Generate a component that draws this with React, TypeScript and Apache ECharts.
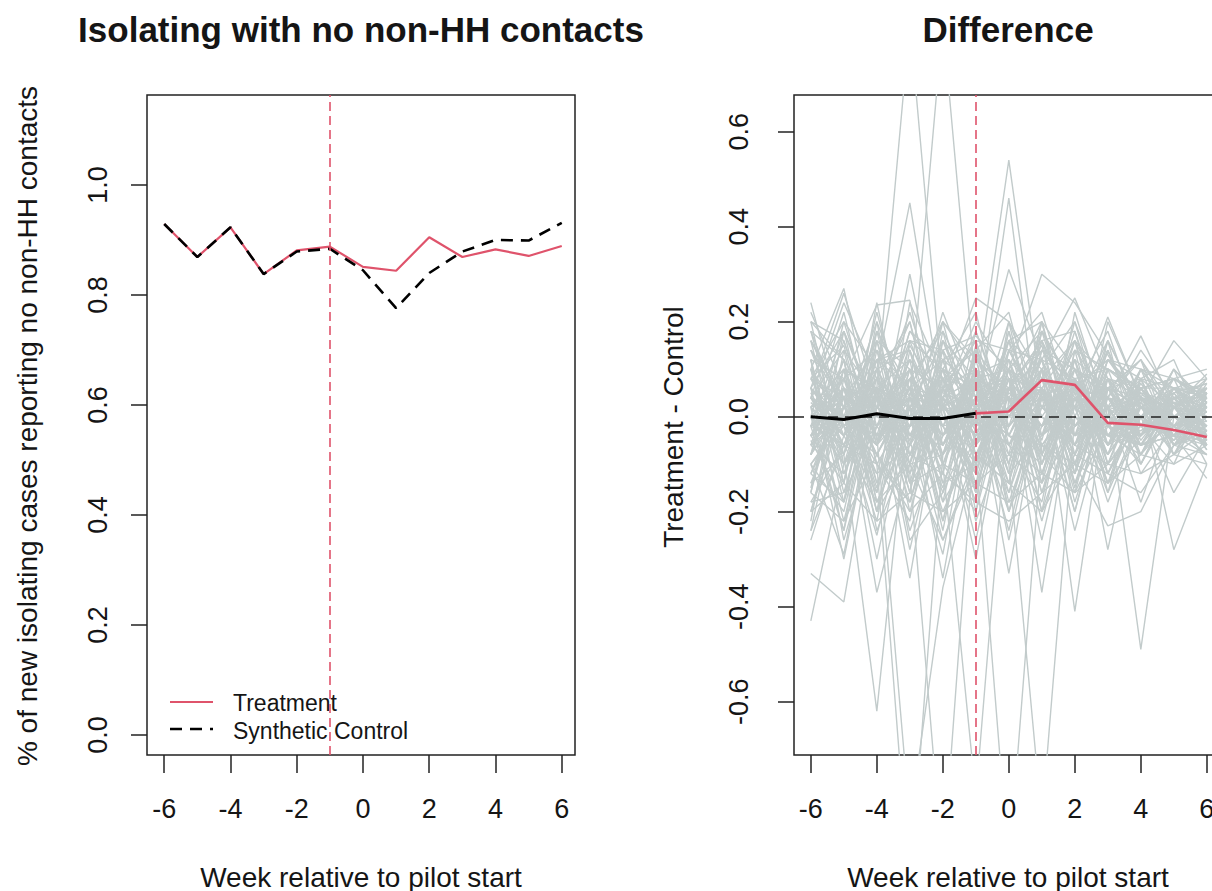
import React, { useEffect, useRef } from "react";
import * as echarts from "echarts";

// ---------- data ----------
const weeks = [-6, -5, -4, -3, -2, -1, 0, 1, 2, 3, 4, 5, 6];
const treatment = [0.929, 0.869, 0.923, 0.838, 0.881, 0.888, 0.851, 0.844, 0.905, 0.869, 0.883, 0.871, 0.889];
const syntheticControl = [0.929, 0.869, 0.923, 0.838, 0.879, 0.884, 0.845, 0.776, 0.84, 0.879, 0.9, 0.899, 0.931];

const preWeeks = [-6, -5, -4, -3, -2, -1];
const diffPre = [0.0, -0.006, 0.006, -0.004, -0.004, 0.007];
const postWeeks = [-1, 0, 1, 2, 3, 4, 5, 6];
const diffPost = [0.007, 0.011, 0.077, 0.067, -0.013, -0.017, -0.028, -0.043];

const xTicks = [-6, -4, -2, 0, 2, 4, 6];
const yTicksLeft = [0, 0.2, 0.4, 0.6, 0.8, 1.0];
const yTicksRight = [-0.6, -0.4, -0.2, 0, 0.2, 0.4, 0.6];
const pilotWeek = -1;

// placebo (gray) differences, one row per unit, weeks -6..6
const placebo: number[][] = [
  [0.05, -0.08, 0.1, -0.05, 0.12, -0.1, 0.06, 0.15, -0.12, 0.08, -0.05, 0.04, -0.02],
  [-0.12, 0.06, -0.15, 0.1, -0.08, 0.13, -0.04, -0.1, 0.12, -0.06, 0.07, -0.03, 0.05],
  [0.14, 0.02, -0.06, 0.15, 0.03, -0.12, 0.1, 0.05, -0.08, 0.14, -0.02, 0.06, -0.05],
  [-0.05, -0.18, 0.04, -0.1, 0.16, 0.02, -0.14, 0.18, 0.05, -0.12, 0.03, -0.06, 0.02],
  [0.08, 0.15, -0.1, 0.02, -0.15, 0.09, 0.12, -0.05, 0.2, 0.02, -0.08, 0.05, 0.07],
  [-0.15, 0.1, 0.05, -0.18, 0.08, -0.03, 0.02, 0.12, -0.15, 0.1, 0.06, -0.04, -0.08],
  [0.02, -0.04, 0.18, 0.06, -0.12, 0.15, -0.08, -0.14, 0.08, -0.02, 0.1, 0.08, 0.03],
  [0.2, -0.1, -0.02, 0.12, 0.04, -0.16, 0.14, 0.02, -0.04, 0.16, -0.1, 0.02, 0.09],
  [-0.08, 0.12, -0.18, -0.02, 0.1, 0.06, -0.1, 0.2, 0.1, -0.08, 0.02, -0.08, -0.03],
  [0.1, -0.02, 0.08, -0.14, -0.04, 0.12, 0.04, -0.06, -0.12, 0.06, 0.12, 0.0, 0.06],
  [-0.02, 0.18, 0.02, 0.08, -0.18, -0.06, 0.16, 0.1, 0.02, -0.14, -0.04, 0.1, -0.06],
  [0.16, 0.04, -0.12, -0.06, 0.14, 0.0, -0.06, -0.18, 0.14, 0.04, 0.0, -0.05, 0.04],
  [-0.18, -0.06, 0.12, 0.14, -0.02, -0.12, 0.08, 0.06, -0.1, 0.12, 0.05, 0.03, -0.1],
  [0.06, 0.26, 0.04, -0.08, 0.06, 0.1, -0.12, 0.14, 0.04, -0.04, -0.06, 0.06, 0.01],
  [-0.1, 0.0, -0.06, 0.18, 0.12, -0.08, 0.0, -0.02, 0.16, 0.08, -0.12, -0.02, 0.08],
  [0.12, -0.14, 0.16, -0.12, 0.02, 0.18, -0.02, 0.08, -0.06, -0.1, 0.08, 0.12, -0.04],
  [0.0, 0.08, -0.08, 0.04, -0.1, -0.14, 0.12, -0.1, 0.06, 0.18, -0.02, -0.1, 0.05],
  [-0.06, -0.12, 0.06, -0.16, 0.18, 0.04, 0.06, 0.16, -0.02, 0.02, 0.14, 0.04, -0.07],
  [0.18, 0.12, 0.0, 0.1, -0.06, 0.08, -0.16, 0.04, 0.12, -0.16, 0.0, 0.08, 0.1],
  [-0.14, 0.04, 0.14, -0.04, 0.0, -0.1, 0.18, -0.08, -0.16, 0.1, 0.06, -0.06, 0.0],
  [-0.43, -0.1, 0.05, -0.08, 0.1, -0.05, 0.08, -0.1, 0.05, 0.02, -0.04, 0.03, -0.02],
  [-0.33, -0.39, 0.02, 0.1, -0.06, 0.04, -0.02, 0.06, -0.08, 0.04, 0.02, -0.04, -0.06],
  [0.1, 0.27, -0.05, 0.06, -0.02, 0.08, 0.04, -0.04, 0.1, -0.06, 0.04, 0.02, 0.05],
  [0.2, 0.16, -0.06, 0.02, 0.08, -0.1, 0.1, 0.02, -0.06, 0.06, -0.02, 0.0, 0.03],
  [0.02, -0.08, -0.62, 0.05, -0.04, 0.06, -0.06, 0.1, -0.02, 0.04, -0.06, 0.05, -0.03],
  [-0.06, 0.04, -0.37, -0.1, 0.08, -0.02, 0.04, -0.08, 0.06, -0.04, 0.02, -0.02, 0.02],
  [0.04, 0.0, 0.06, 0.83, 0.05, 0.02, -0.04, 0.08, 0.02, -0.06, 0.04, -0.03, 0.01],
  [-0.02, 0.06, -0.04, 0.04, 0.83, 0.06, 0.08, -0.02, 0.04, 0.06, -0.02, 0.04, -0.02],
  [0.06, -0.04, 0.1, 0.45, 0.02, -0.06, 0.05, 0.0, -0.06, 0.08, 0.0, -0.04, 0.04],
  [-0.04, 0.08, 0.235, 0.245, -0.1, 0.04, 0.0, 0.04, 0.08, -0.02, -0.04, 0.06, -0.01],
  [0.08, 0.02, -0.06, 0.3, -0.04, 0.1, -0.02, 0.06, -0.1, 0.02, 0.06, 0.0, 0.02],
  [0.04, -0.06, -0.1, -1.0, -0.08, 0.02, 0.06, -0.04, 0.02, 0.0, -0.03, 0.02, -0.04],
  [-0.08, 0.02, 0.04, -0.12, -0.95, 0.0, -0.06, 0.04, -0.04, 0.02, 0.04, -0.05, 0.02],
  [0.02, 0.1, -0.04, -0.85, -0.36, -0.08, 0.04, 0.02, 0.06, -0.04, 0.0, 0.02, 0.0],
  [-0.1, -0.29, 0.06, -0.05, -0.29, 0.08, -0.04, -0.06, 0.02, 0.04, -0.02, 0.03, -0.05],
  [0.06, -0.02, -0.25, 0.04, -0.02, -0.14, 0.02, 0.1, -0.04, 0.06, 0.02, -0.02, 0.04],
  [-0.04, 0.02, -0.06, 0.06, -0.1, -0.8, 0.04, -0.02, 0.08, -0.02, 0.04, 0.0, -0.03],
  [0.03, -0.04, 0.02, -0.02, 0.06, -0.08, -0.95, -0.06, 0.02, 0.06, -0.04, 0.03, 0.01],
  [-0.02, 0.06, 0.0, 0.04, -0.06, 0.1, -0.1, -0.85, 0.0, -0.04, 0.05, -0.02, 0.03],
  [0.0, -0.06, 0.04, 0.02, -0.04, 0.06, 0.54, 0.04, -0.06, 0.02, 0.0, 0.04, -0.02],
  [0.05, 0.04, -0.08, 0.06, 0.02, -0.02, 0.46, -0.08, 0.08, -0.04, 0.06, -0.04, 0.0],
  [-0.06, 0.0, 0.08, -0.04, 0.1, 0.04, 0.31, 0.12, -0.02, 0.08, -0.06, 0.02, 0.04],
  [0.02, 0.08, -0.02, 0.1, 0.06, 0.25, 0.2, 0.02, 0.06, -0.08, 0.02, 0.05, -0.04],
  [-0.04, 0.06, 0.02, -0.06, 0.04, 0.08, 0.1, 0.3, 0.24, 0.13, 0.02, -0.02, 0.02],
  [0.04, -0.04, 0.06, 0.02, -0.08, 0.06, -0.33, 0.06, -0.02, 0.04, -0.04, 0.02, 0.0],
  [-0.02, 0.04, -0.06, 0.08, 0.02, -0.04, 0.08, -0.37, 0.08, -0.06, 0.02, -0.03, 0.03],
  [0.06, -0.02, 0.04, -0.06, 0.1, 0.02, -0.04, 0.1, -0.41, 0.06, -0.04, 0.04, -0.02],
  [-0.06, 0.02, 0.1, -0.02, 0.04, -0.06, 0.06, -0.02, 0.08, -0.28, 0.04, -0.02, 0.01],
  [0.04, -0.1, 0.02, 0.06, -0.06, 0.1, -0.02, 0.06, -0.1, -0.23, -0.2, -0.06, -0.04],
  [0.0, 0.06, -0.04, 0.02, 0.08, -0.02, 0.04, -0.08, 0.04, 0.02, -0.49, 0.0, -0.06],
  [-0.04, -0.02, 0.06, -0.08, 0.02, 0.06, -0.06, 0.04, 0.02, -0.04, 0.04, -0.28, -0.1],
  [0.02, 0.04, -0.02, 0.08, -0.04, 0.02, 0.1, -0.04, 0.02, 0.21, 0.04, 0.02, 0.05],
  [-0.02, -0.06, 0.08, 0.0, 0.06, -0.04, -0.02, 0.08, 0.06, 0.04, 0.17, 0.02, 0.06],
  [0.06, 0.0, -0.04, -0.02, 0.02, 0.08, 0.04, -0.02, 0.1, 0.06, 0.04, 0.16, 0.08],
  [-0.08, 0.1, 0.06, 0.04, -0.02, 0.0, 0.06, 0.12, 0.25, 0.08, 0.06, 0.08, 0.04],
  [0.04, -0.02, -0.08, 0.06, 0.04, -0.06, 0.02, 0.06, -0.04, -0.02, -0.06, -0.04, -0.13],
  [-0.02, 0.04, 0.02, -0.04, -0.06, 0.04, 0.08, -0.02, 0.04, 0.06, 0.02, 0.06, 0.08],
  [0.16, 0.02, 0.12, 0.16, 0.14, 0.17, 0.1, 0.18, 0.06, 0.12, 0.08, 0.06, 0.05],
  [-0.2, -0.14, -0.22, -0.16, -0.2, -0.14, -0.18, -0.12, -0.16, -0.1, -0.12, -0.08, -0.1],
  [0.12, 0.08, 0.14, 0.06, 0.12, 0.16, 0.14, 0.12, 0.08, 0.1, 0.06, 0.08, 0.04],
  [-0.16, -0.22, -0.08, -0.2, -0.12, -0.18, -0.22, -0.16, -0.1, -0.14, -0.08, -0.1, -0.06],
  [-0.24, -0.06, -0.18, -0.1, -0.26, -0.08, -0.14, -0.2, -0.08, -0.12, -0.16, -0.06, -0.08],
  [0.02, -0.3, 0.04, -0.34, 0.06, -0.04, 0.02, -0.06, 0.04, -0.02, 0.02, 0.0, -0.02],
  [-0.08, 0.04, -0.3, 0.02, -0.34, 0.04, -0.08, 0.02, -0.02, 0.04, -0.02, 0.03, 0.0],
  [0.0, -0.24, 0.06, -0.28, 0.02, -0.3, 0.06, -0.04, 0.06, 0.0, -0.04, 0.02, -0.02],
  [-0.02, 0.06, -0.2, 0.04, -0.22, 0.08, -0.26, 0.04, -0.2, 0.06, -0.06, -0.02, -0.08],
  [0.04, 0.0, 0.04, -0.02, 0.02, 0.0, -0.2, 0.06, -0.24, 0.02, -0.18, 0.02, -0.06],
  [-0.04, 0.02, -0.02, 0.04, -0.04, 0.04, 0.04, -0.26, 0.04, -0.18, 0.0, -0.16, -0.04],
  [0.0, -0.02, 0.06, 0.0, 0.04, -0.02, 0.16, 0.2, -0.04, 0.1, -0.08, 0.04, 0.02],
  [0.08, 0.04, 0.0, -0.04, 0.08, 0.14, -0.1, 0.16, 0.18, -0.06, 0.1, 0.0, -0.02],
  [0.12, -0.16, 0.08, 0.2, -0.06, 0.04, 0.12, -0.12, 0.1, 0.04, -0.08, 0.06, 0.0],
  [-0.2, 0.02, 0.16, -0.06, 0.1, -0.16, 0.02, 0.08, 0.16, -0.1, 0.06, -0.02, -0.06],
  [0.04, 0.14, -0.14, 0.0, 0.2, 0.1, -0.2, 0.04, -0.06, 0.12, 0.1, 0.02, 0.06],
  [-0.1, -0.2, 0.1, 0.14, -0.14, 0.02, 0.1, -0.2, 0.0, 0.14, -0.04, 0.06, -0.02],
  [0.22, 0.06, -0.08, -0.18, 0.06, 0.16, -0.04, 0.12, -0.14, 0.0, 0.08, -0.06, 0.04],
  [-0.04, -0.14, 0.2, 0.02, -0.2, -0.04, 0.14, 0.0, 0.1, -0.1, -0.02, 0.1, 0.02],
  [0.08, 0.2, -0.02, -0.12, 0.14, -0.2, 0.06, 0.2, -0.08, 0.08, 0.04, -0.08, 0.05],
  [-0.16, 0.1, -0.2, 0.16, -0.02, 0.12, -0.12, -0.04, 0.18, -0.02, -0.1, 0.04, -0.02],
  [0.0, -0.1, 0.12, -0.2, 0.04, 0.2, 0.08, -0.16, 0.02, 0.16, 0.02, -0.04, 0.07],
  [0.14, -0.04, -0.16, 0.08, 0.18, -0.08, -0.14, 0.1, -0.18, 0.04, 0.12, 0.02, -0.05],
  [-0.22, 0.14, 0.04, -0.1, -0.08, 0.14, 0.04, 0.14, 0.06, -0.14, 0.02, 0.08, 0.03],
  [0.06, -0.22, 0.06, 0.12, 0.02, -0.18, 0.2, -0.1, 0.12, 0.06, -0.06, -0.04, 0.06],
  [-0.12, 0.02, -0.1, -0.22, 0.16, 0.08, -0.06, 0.06, -0.12, 0.2, 0.04, 0.0, -0.04],
  [0.18, -0.08, 0.18, 0.04, -0.16, 0.0, 0.16, -0.12, 0.04, -0.08, 0.1, 0.06, 0.02],
  [-0.06, 0.16, -0.04, 0.18, 0.08, -0.22, -0.02, 0.18, -0.04, 0.02, -0.08, 0.02, 0.08],
  [0.1, 0.0, 0.2, -0.14, -0.1, 0.1, -0.18, 0.02, 0.14, -0.12, 0.04, -0.06, -0.02],
  [-0.18, -0.16, -0.02, 0.06, 0.2, -0.06, 0.1, -0.14, -0.02, 0.08, 0.0, 0.04, 0.04],
  [0.02, 0.1, -0.2, -0.08, -0.12, 0.18, 0.0, 0.1, 0.2, -0.04, -0.04, 0.08, -0.06],
  [0.16, -0.12, 0.02, 0.22, 0.0, -0.12, 0.18, -0.06, -0.1, 0.1, 0.06, -0.02, 0.01],
  [-0.08, 0.2, 0.1, -0.16, 0.12, 0.06, -0.1, 0.16, 0.02, -0.16, 0.08, 0.02, 0.05],
  [0.24, -0.02, -0.12, 0.1, -0.18, 0.12, 0.06, -0.08, 0.16, 0.02, -0.1, 0.04, -0.03],
  [-0.14, -0.08, 0.22, -0.04, 0.06, -0.14, -0.08, 0.2, -0.1, 0.06, 0.08, -0.08, 0.0],
  [0.0, 0.22, -0.06, 0.12, -0.22, 0.02, 0.12, 0.04, 0.08, -0.06, -0.02, 0.1, 0.03],
  [0.1, -0.18, 0.14, -0.14, 0.1, 0.22, -0.06, -0.12, 0.06, 0.12, 0.02, -0.02, -0.08],
  [-0.24, 0.08, -0.14, 0.02, 0.16, -0.02, 0.2, 0.08, -0.16, -0.02, 0.06, 0.06, 0.06],
  [0.14, 0.04, 0.06, -0.24, -0.04, 0.08, -0.14, 0.14, 0.1, 0.04, -0.06, -0.04, 0.02],
  [-0.02, -0.24, 0.16, 0.1, -0.14, -0.1, 0.08, -0.2, 0.14, 0.1, 0.04, 0.02, -0.04],
  [0.2, 0.12, -0.18, -0.02, 0.22, 0.04, -0.02, 0.06, -0.2, 0.08, -0.04, 0.06, 0.04],
  [-0.1, -0.02, 0.04, 0.2, -0.1, -0.2, 0.14, 0.22, 0.0, -0.08, 0.1, -0.06, 0.0],
  [0.06, 0.18, -0.1, -0.18, 0.04, 0.16, -0.2, -0.02, 0.12, -0.1, 0.0, 0.04, 0.07],
  [-0.26, -0.04, 0.12, 0.06, -0.24, 0.1, 0.0, 0.12, -0.06, 0.14, -0.02, -0.04, -0.02],
  [0.12, -0.26, -0.02, 0.16, 0.1, -0.16, 0.1, -0.16, 0.08, -0.14, 0.06, 0.08, 0.05],
  [-0.04, 0.12, -0.24, -0.06, 0.14, 0.0, -0.16, 0.1, -0.14, 0.06, 0.12, -0.06, -0.03],
  [0.08, -0.06, 0.1, -0.26, -0.16, 0.14, 0.22, -0.04, 0.04, -0.04, -0.08, 0.0, 0.02],
  [-0.16, 0.18, 0.0, 0.04, 0.02, -0.26, 0.06, 0.16, -0.12, 0.16, 0.02, 0.02, -0.07],
  [0.18, 0.0, -0.22, 0.14, -0.08, 0.02, -0.24, 0.06, 0.16, -0.06, 0.08, -0.08, 0.03],
  [-0.12, -0.18, 0.18, -0.1, 0.2, 0.12, 0.04, -0.22, 0.04, 0.0, -0.06, 0.04, 0.06],
  [0.04, 0.24, 0.08, 0.0, -0.26, -0.1, 0.16, 0.0, -0.08, 0.12, 0.04, -0.02, -0.01],
  [-0.2, 0.06, -0.16, 0.24, 0.08, 0.06, -0.12, 0.18, 0.06, -0.12, 0.0, 0.06, 0.04],
  [0.1, -0.14, 0.24, -0.08, 0.0, -0.08, 0.08, -0.14, 0.22, 0.0, 0.06, -0.04, -0.05],
];

// ---------- styles ----------
const RED = "#DF536B";
const GRAY = "#C2CBCB";
const INK = "#151515";
const FONT = "'Liberation Sans', Arial, Helvetica, sans-serif";

const pairs = (xs: number[], ys: number[]) => xs.map((x, i) => [x, ys[i]]);

export default function App() {
  const ref = useRef<HTMLDivElement>(null);

  useEffect(() => {
    if (!ref.current) return;
    const chart = echarts.init(ref.current, undefined, { renderer: "svg" });

    const tickStyle = { color: "#222", width: 1.5 };
    const labelBase = { color: INK, fontSize: 27, fontFamily: FONT };

    const xAxisCommon = (gridIndex: number, min: number, max: number) => ({
      type: "value",
      gridIndex,
      min,
      max,
      position: "bottom",
      splitLine: { show: false },
      axisLine: { show: false, onZero: false },
      axisTick: { show: true, length: 18, lineStyle: tickStyle, customValues: xTicks },
      axisLabel: { ...labelBase, margin: 40, customValues: xTicks, formatter: (v: number) => String(v) },
    });

    const yAxisCommon = (gridIndex: number, min: number, max: number, ticks: number[], margin: number) => ({
      type: "value",
      gridIndex,
      min,
      max,
      position: "left",
      splitLine: { show: false },
      axisLine: { show: false, onZero: false },
      axisTick: { show: true, length: 16, lineStyle: tickStyle, customValues: ticks },
      axisLabel: {
        ...labelBase,
        rotate: 90,
        margin,
        customValues: ticks,
        formatter: (v: number) => v.toFixed(1),
      },
    });

    const graySeries = placebo.map((row, i) => ({
      name: "placebo" + i,
      type: "line",
      xAxisIndex: 1,
      yAxisIndex: 1,
      data: pairs(weeks, row),
      showSymbol: false,
      symbol: "none",
      silent: true,
      lineStyle: { color: GRAY, width: 1.4 },
      z: 1,
    }));

    const vLine = (axis: number) => ({
      type: "line",
      xAxisIndex: axis,
      yAxisIndex: axis,
      data: [],
      z: 10,
      markLine: {
        silent: true,
        symbol: "none",
        label: { show: false },
        lineStyle: { color: RED, type: [9, 5], width: 1.6 },
        data: [{ xAxis: pilotWeek }],
      },
    });

    const option = {
      animation: false,
      backgroundColor: "#fff",
      grid: [
        { left: 147, top: 95, width: 428, height: 660, show: true, borderColor: "#222", borderWidth: 1.5, backgroundColor: "transparent" },
        { left: 794, top: 95, width: 428, height: 660, show: true, borderColor: "#222", borderWidth: 1.5, backgroundColor: "transparent" },
      ],
      xAxis: [xAxisCommon(0, -6.52, 6.4), xAxisCommon(1, -6.51, 6.46)],
      yAxis: [
        yAxisCommon(0, -0.0364, 1.1636, yTicksLeft, 36),
        yAxisCommon(1, -0.7123, 0.6772, yTicksRight, 42),
      ],
      series: [
        {
          name: "Treatment",
          type: "line",
          xAxisIndex: 0,
          yAxisIndex: 0,
          data: pairs(weeks, treatment),
          showSymbol: false,
          symbol: "none",
          lineStyle: { color: RED, width: 2.2 },
          z: 3,
        },
        {
          name: "Synthetic Control",
          type: "line",
          xAxisIndex: 0,
          yAxisIndex: 0,
          data: pairs(weeks, syntheticControl),
          showSymbol: false,
          symbol: "none",
          lineStyle: { color: "#000", width: 2.6, type: [12, 8] },
          z: 4,
        },
        ...graySeries,
        {
          type: "line",
          xAxisIndex: 1,
          yAxisIndex: 1,
          data: [],
          z: 2,
          markLine: {
            silent: true,
            symbol: "none",
            label: { show: false },
            lineStyle: { color: "#222", type: [10, 7], width: 1.6 },
            data: [{ yAxis: 0 }],
          },
        },
        {
          name: "Pre-period difference",
          type: "line",
          xAxisIndex: 1,
          yAxisIndex: 1,
          data: pairs(preWeeks, diffPre),
          showSymbol: false,
          symbol: "none",
          lineStyle: { color: "#000", width: 3 },
          z: 5,
        },
        {
          name: "Post-period difference",
          type: "line",
          xAxisIndex: 1,
          yAxisIndex: 1,
          data: pairs(postWeeks, diffPost),
          showSymbol: false,
          symbol: "none",
          lineStyle: { color: RED, width: 2.6 },
          z: 5,
        },
        vLine(0),
        vLine(1),
      ],
      graphic: [
        { type: "text", x: 361, y: 29, style: { text: "Isolating with no non-HH contacts", fontSize: 35, fontWeight: "bold", fontFamily: FONT, fill: INK, align: "center", verticalAlign: "middle" } },
        { type: "text", x: 1008, y: 29, style: { text: "Difference", fontSize: 35, fontWeight: "bold", fontFamily: FONT, fill: INK, align: "center", verticalAlign: "middle" } },
        { type: "text", x: 361, y: 877, style: { text: "Week relative to pilot start", fontSize: 28, fontFamily: FONT, fill: INK, align: "center", verticalAlign: "middle" } },
        { type: "text", x: 1008, y: 877, style: { text: "Week relative to pilot start", fontSize: 28, fontFamily: FONT, fill: INK, align: "center", verticalAlign: "middle" } },
        { type: "text", x: 27, y: 426, rotation: Math.PI / 2, style: { text: "% of new isolating cases reporting no non-HH contacts", fontSize: 28, fontFamily: FONT, fill: INK, align: "center", verticalAlign: "middle" } },
        { type: "text", x: 673, y: 427, rotation: Math.PI / 2, style: { text: "Treatment - Control", fontSize: 28, fontFamily: FONT, fill: INK, align: "center", verticalAlign: "middle" } },
        // legend
        { type: "line", shape: { x1: 170, y1: 702, x2: 213, y2: 702 }, style: { stroke: RED, lineWidth: 2.2 } },
        { type: "line", shape: { x1: 170, y1: 729, x2: 213, y2: 729 }, style: { stroke: "#000", lineWidth: 2.6, lineDash: [12, 8] } },
        { type: "text", x: 233, y: 703, style: { text: "Treatment", fontSize: 23, fontFamily: FONT, fill: INK, align: "left", verticalAlign: "middle" } },
        { type: "text", x: 233, y: 731, style: { text: "Synthetic Control", fontSize: 23, fontFamily: FONT, fill: INK, align: "left", verticalAlign: "middle" } },
      ],
    };

    chart.setOption(option as any);
    return () => chart.dispose();
  }, []);

  return (
    <div style={{ position: "fixed", left: 0, top: 0, width: 1212, height: 891, overflow: "hidden", background: "#fff" }}>
      <div ref={ref} style={{ width: 1236, height: 891 }} />
    </div>
  );
}
